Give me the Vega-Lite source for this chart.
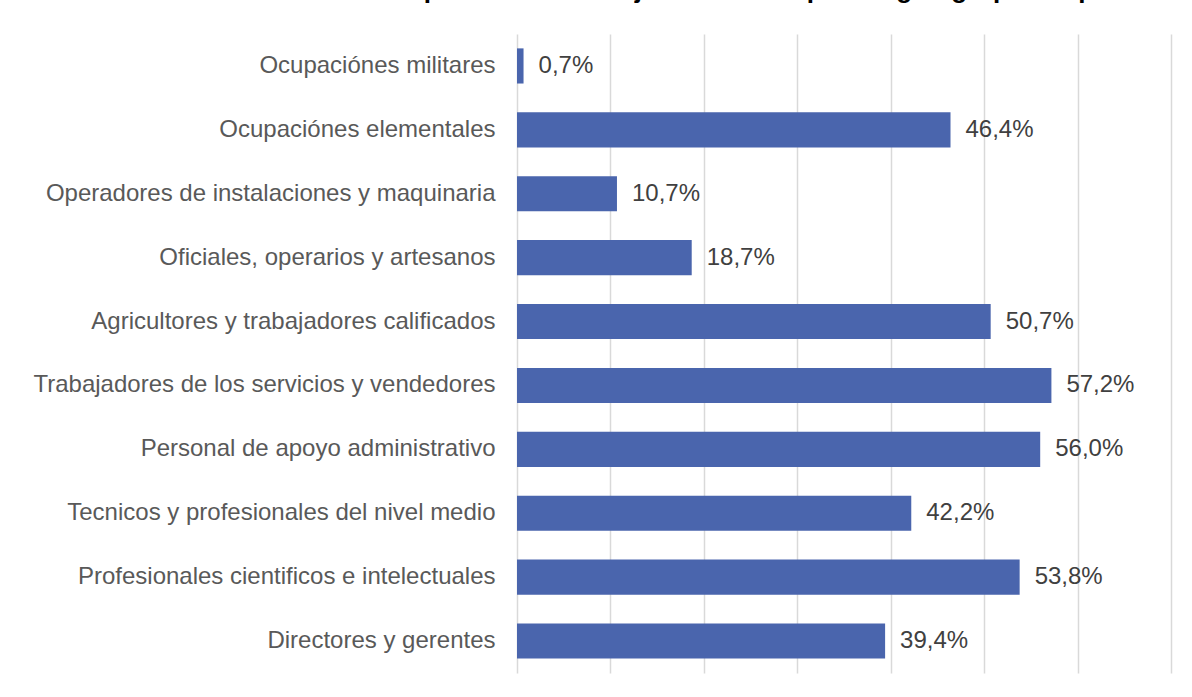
{
  "$schema": "https://vega.github.io/schema/vega-lite/v6.json",
  "width": 654,
  "height": 639,
  "autosize": {"type": "none"},
  "padding": {"left": 517, "top": 34, "right": 21, "bottom": 24},
  "background": "white",
  "title": {
    "text": "Participación de las mujeres en el empleo según grupo ocupacional",
    "font": "Liberation Sans",
    "fontSize": 26,
    "fontWeight": "bold",
    "color": "#000000",
    "anchor": "middle",
    "frame": "group",
    "baseline": "alphabetic",
    "offset": 24,
    "dx": -80,
    "dy": 14
  },
  "data": {
    "values": [
      {"grupo": "Ocupaciónes militares", "valor": 0.7, "etiqueta": "0,7%"},
      {"grupo": "Ocupaciónes elementales", "valor": 46.4, "etiqueta": "46,4%"},
      {"grupo": "Operadores de instalaciones y maquinaria", "valor": 10.7, "etiqueta": "10,7%"},
      {"grupo": "Oficiales, operarios y artesanos", "valor": 18.7, "etiqueta": "18,7%"},
      {"grupo": "Agricultores y trabajadores calificados", "valor": 50.7, "etiqueta": "50,7%"},
      {"grupo": "Trabajadores de los servicios y vendedores", "valor": 57.2, "etiqueta": "57,2%"},
      {"grupo": "Personal de apoyo administrativo", "valor": 56.0, "etiqueta": "56,0%"},
      {"grupo": "Tecnicos y profesionales del nivel medio", "valor": 42.2, "etiqueta": "42,2%"},
      {"grupo": "Profesionales cientificos e intelectuales", "valor": 53.8, "etiqueta": "53,8%"},
      {"grupo": "Directores y gerentes", "valor": 39.4, "etiqueta": "39,4%"}
    ]
  },
  "encoding": {
    "y": {
      "field": "grupo",
      "type": "nominal",
      "sort": null,
      "scale": {"paddingInner": 0.45},
      "axis": {
        "title": null,
        "domain": false,
        "ticks": false,
        "labelFont": "Liberation Sans",
        "labelFontSize": 24,
        "labelColor": "#595959",
        "labelPadding": 22,
        "labelLimit": 600
      }
    },
    "x": {
      "field": "valor",
      "type": "quantitative",
      "scale": {"domain": [0, 70], "nice": false},
      "axis": {
        "title": null,
        "labels": false,
        "ticks": false,
        "domain": false,
        "values": [0, 10, 20, 30, 40, 50, 60, 70],
        "grid": true,
        "gridColor": "#d9d9d9",
        "gridWidth": 1.5
      }
    }
  },
  "layer": [
    {"mark": {"type": "bar", "color": "#4a65ad"}},
    {
      "mark": {
        "type": "text",
        "align": "left",
        "baseline": "middle",
        "dx": 15,
        "font": "Liberation Sans",
        "fontSize": 24,
        "color": "#404040"
      },
      "encoding": {"text": {"field": "etiqueta"}}
    }
  ],
  "config": {"view": {"stroke": null}}
}
